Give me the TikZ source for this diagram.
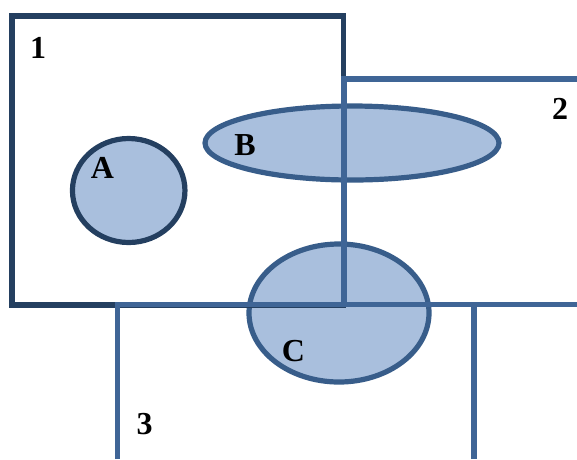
\documentclass[tikz,border=0pt]{standalone}
\usepackage{fontspec}
\setmainfont{Liberation Serif}
\usetikzlibrary{shapes.geometric}
\definecolor{navy}{HTML}{243F60}
\definecolor{steel}{HTML}{3F6596}
\definecolor{rim}{HTML}{385D8A}
\definecolor{blobfill}{HTML}{A9BFDD}
\tikzset{
  blob/.style={ellipse, draw=rim, fill=blobfill, line width=5.2pt, inner sep=0pt},
  darkblob/.style={blob, draw=navy},
  frame/.style={draw=navy, line width=5.6pt, rectangle, inner sep=0pt},
  edge/.style={draw=steel, line width=5.2pt},
  lab/.style={inner sep=0pt, font=\fontsize{32}{38}\selectfont\bfseries}
}
\begin{document}
\begin{tikzpicture}[x=1pt, y=-1pt]
\useasboundingbox (0,0) rectangle (577,459);
% ellipses
\node[darkblob, minimum width=112.5pt, minimum height=104pt] (A) at (128.7,190.5) {};
\node[blob, minimum width=294pt, minimum height=74pt] (B) at (352,143) {};
\node[blob, minimum width=180pt, minimum height=138pt] (C) at (339,313) {};
% region 1
\node[frame, minimum width=331.8pt, minimum height=289pt] (R1) at (177.6,160.5) {};
% region 2
\coordinate (r2a) at (577,79);
\coordinate (r2b) at (344,79);
\coordinate (r2c) at (344,304.5);
\coordinate (r2d) at (577,304.5);
\draw[edge] (r2a) -- (r2b) -- (r2c) -- (r2d);
% region 3
\coordinate (r3a) at (117.5,459);
\coordinate (r3b) at (117.5,304.5);
\coordinate (r3c) at (474,304.5);
\coordinate (r3d) at (474,459);
\draw[edge] (r3a) -- (r3b) -- (r3c) -- (r3d);
% labels
\node[lab] (l1) at (38,47.5) {1};
\node[lab] (l2) at (560,109) {2};
\node[lab] (l3) at (144.7,424) {3};
\node[lab] (lA) at (102.5,167.5) {A};
\node[lab] (lB) at (245,145) {B};
\node[lab] (lC) at (293.3,351) {C};
\end{tikzpicture}
\end{document}
